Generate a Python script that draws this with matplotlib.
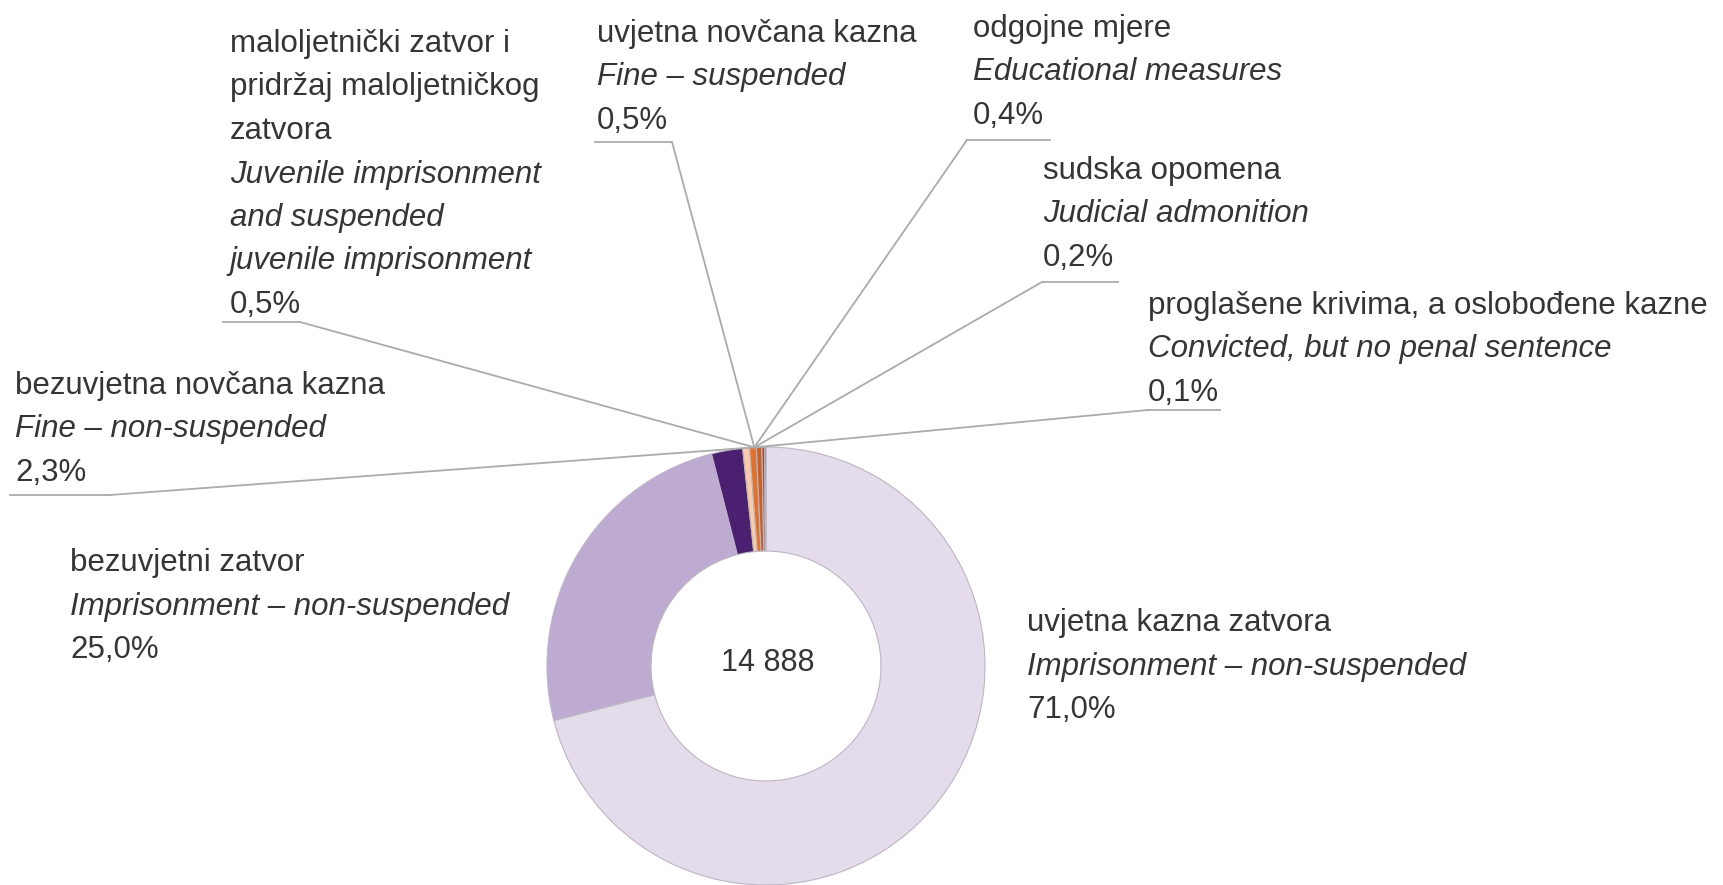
import matplotlib
matplotlib.use('Agg')
import matplotlib.pyplot as plt
import numpy as np

# data
cat_hr = ['uvjetna kazna zatvora',
          'bezuvjetni zatvor',
          'bezuvjetna novčana kazna',
          'maloljetnički zatvor i\npridržaj maloljetničkog\nzatvora',
          'uvjetna novčana kazna',
          'odgojne mjere',
          'sudska opomena',
          'proglašene krivima, a oslobođene kazne']
cat_en = ['Imprisonment – non-suspended',
          'Imprisonment – non-suspended',
          'Fine – non-suspended',
          'Juvenile imprisonment\nand suspended\njuvenile imprisonment',
          'Fine – suspended',
          'Educational measures',
          'Judicial admonition',
          'Convicted, but no penal sentence']
shares = [71.0, 25.0, 2.3, 0.5, 0.5, 0.4, 0.2, 0.1]
total = '14 888'

colors = ['#e4dbeb', '#bdabd2', '#4b2070', '#f7cbab', '#de7330',
          '#c85f27', '#a84b1e', '#7a3312']

W, H = 1723, 885
plt.rcParams['font.family'] = ['Liberation Sans', 'DejaVu Sans']
txt_col = '#353535'
line_col = '#ababab'
fs = 22.5
lh = 43.5

fig = plt.figure(figsize=(W / 100, H / 100), dpi=100)
ax = fig.add_axes([0, 0, 1, 1])


def py(y):
    return H - y


cx, cy, r = 766, py(666), 219
wedges, _ = ax.pie(shares, colors=colors, startangle=90, counterclock=False,
                   center=(cx, cy), radius=r, frame=True,
                   wedgeprops=dict(width=r * 0.475, edgecolor='#bdb5c4', linewidth=0.8))
ax.set_xlim(0, W)
ax.set_ylim(0, H)
ax.set_aspect('equal')
ax.axis('off')

ax.text(768, py(663), total, ha='center', va='center', fontsize=22, color=txt_col)

# anchor where all leader lines meet: middle of the run of small slices
angs = []
for w in wedges[3:]:
    angs += [w.theta1, w.theta2]
a = np.deg2rad((min(angs) + max(angs)) / 2)
ax_, ay_ = cx + r * np.cos(a), cy + r * np.sin(a)

# label layout: x, first line centre y, underline y, underline x0, x1, leader end
layout = [
    (1027, 622, None, None, None, None),
    (70, 562, None, None, None, None),
    (15, 385, 495, 10, 110, 'r'),
    (230, 43, 322, 223, 300, 'r'),
    (597, 33, 142, 595, 672, 'r'),
    (973, 28, 140, 967, 1050, 'l'),
    (1043, 170, 282, 1042, 1118, 'l'),
    (1148, 305, 410, 1148, 1220, 'l'),
]

for i, (x, y0, uy, ux0, ux1, side) in enumerate(layout):
    lines = [(s, 'normal') for s in cat_hr[i].split('\n')]
    lines += [(s, 'italic') for s in cat_en[i].split('\n')]
    lines += [(f'{shares[i]:.1f}'.replace('.', ',') + '%', 'normal')]
    for k, (s, st) in enumerate(lines):
        ax.text(x, py(y0 + k * lh + 9), s, ha='left', va='baseline',
                fontsize=fs, style=st, color=txt_col)
    if uy is not None:
        ax.plot([ux0, ux1], [py(uy), py(uy)], color=line_col, lw=1.3)
        ex = ux1 if side == 'r' else ux0
        ax.plot([ex, ax_], [py(uy), ay_], color=line_col, lw=1.3)

fig.savefig('out.png', dpi=100, facecolor='white')
